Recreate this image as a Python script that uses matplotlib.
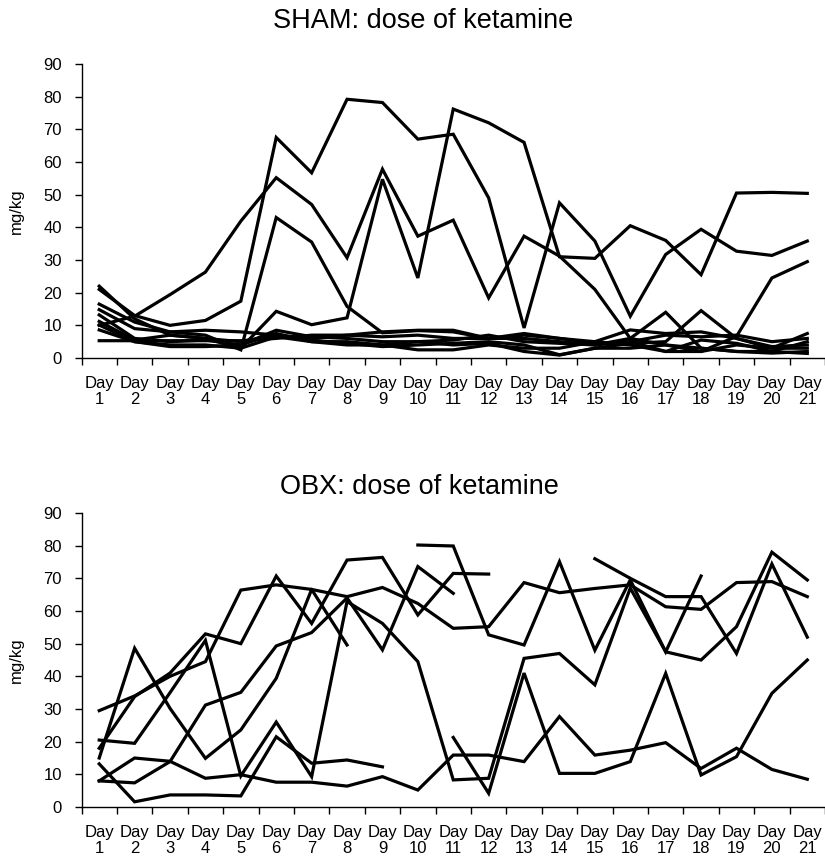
import numpy as np
import matplotlib.pyplot as plt
from matplotlib.ticker import FixedLocator

plt.rcParams['font.family'] = ['Liberation Sans', 'DejaVu Sans']

days = [f'Day\n{d}' for d in range(1, 22)]
nan = np.nan

# SHAM: dose of ketamine (mg/kg), one list per animal
sham_1 = [21, 13, 10, 11.5, 17.4, 67.5, 56.7, 79.2, 78.2, 67, 68.5, 49, 9.2, 47.5, 35.8, 12.8, 31.7, 39.4, 32.7, 31.4, 35.8]
sham_2 = [22, 12, 7, 6, 3, 14.3, 10.2, 12.3, 54.7, 24.5, 76.2, 72, 66, 31, 30.5, 40.5, 36, 25.5, 50.5, 50.7, 50.4]
sham_3 = [10, 12.8, 19.4, 26.3, 41.9, 55.2, 47, 30.7, 57.8, 37.3, 42.2, 18.4, 37.3, 31.2, 21, 6, 4, 2, 4, 3, 7.5]
sham_4 = [16.5, 11, 8, 7, 2.5, 43, 35.5, 15.8, 7.7, 8.4, 8, 6, 7.5, 6, 4.5, 5, 2, 2, 6.6, 24.5, 29.5]
sham_5 = [14.8, 9, 8, 8.5, 8, 7, 6, 7, 8, 8.5, 8.5, 6, 7, 6, 5, 8.6, 7.5, 8, 6, 3, 3]
sham_6 = [13.2, 6, 5, 5.5, 4, 8.5, 6.5, 6, 5, 5, 5.5, 7, 5, 4.5, 4, 6, 14, 3, 2, 2, 5]
sham_7 = [11.2, 5.5, 7, 6, 5, 7, 5.5, 4.5, 3.5, 4, 4.5, 5, 4, 1, 3, 4.5, 5, 14.5, 6, 3.5, 4]
sham_8 = [8.6, 5, 4, 4, 3, 6.5, 5, 4, 4, 2.5, 2.5, 4, 3, 3, 5, 4, 2, 5.5, 4.5, 2, 1.4]
sham_9 = [5.3, 5.3, 5.3, 5.3, 5.3, 6, 7, 7, 6.5, 7, 6, 6, 6, 5, 4, 5, 7, 6.5, 7, 5, 6]
sham_10 = [10.1, 5, 3.5, 3.5, 4, 7.5, 5, 5, 4, 5, 4, 4.5, 2, 0.9, 3, 3, 4, 3, 2, 1.5, 2]

# OBX: dose of ketamine (mg/kg), gaps where no value
obx_1 = [29.5, 34, 40, 44.5, 66.4, 68, 66.6, 49.6] + [nan] * 13
obx_2 = [18, 33.8, 41, 53, 50, 70.7, 56.2, 75.6, 76.4, 58.8, 71.5, 71.3] + [nan] * 9
obx_3 = [20.5, 19.5, 35, 51, 9.5, 26, 9.3, 62.9, 56.2, 44.5, 8.3, 8.8, 45.5, 47, 37.4, 67, 47.5, 45, 55.2, 78, 69.5]
obx_4 = [15, 48.6, 30.2, 14.9, 23.6, 39.4, 66.6, 64.4, 67.2, 62.3, 54.7, 55.2, 68.7, 65.6, 66.9, 68, 61.3, 60.5, 68.7, 69, 64.4]
obx_5 = [13.2, 1.6, 3.7, 3.7, 3.4, 21.5, 13.4, 14.4, 12.3] + [nan] * 12
obx_6 = [8, 7.4, 13.9, 31.2, 35.1, 49.3, 53.4, 64, 48.1, 73.6, 65.4] + [nan] * 10
obx_7 = [8, 15, 14, 8.8, 9.9, 7.6, 7.6, 6.4, 9.3, 5.2, 15.9, 15.9, 13.9, 27.7, 15.9, 17.4, 19.7, 11.8, 18, 11.5, 8.5]
obx_8 = [nan] * 10 + [21.3, 4.2, 41, 10.3, 10.3, 13.9, 40.9, 9.8, 15.4, 34.8, 45]
obx_9 = [nan] * 9 + [80.2, 79.9, 52.7, 49.6, 75.1, 48, 69.5, 47.5, 70.7, nan, nan, nan]
obx_10 = [nan] * 14 + [76, 70, 64.4, 64.4, 47, 74.4, 52]

sham = [sham_1, sham_2, sham_3, sham_4, sham_5, sham_6, sham_7, sham_8, sham_9, sham_10]
obx = [obx_1, obx_2, obx_3, obx_4, obx_5, obx_6, obx_7, obx_8, obx_9, obx_10]

fig = plt.figure(figsize=(8.25, 8.6), dpi=100)
ax_top = fig.add_axes([0.0988, 0.5837, 0.9012, 0.3419])
ax_bot = fig.add_axes([0.0988, 0.0616, 0.9012, 0.3419])

x = np.arange(len(days))
for ax, group in [(ax_top, sham), (ax_bot, obx)]:
    for series in group:
        ax.plot(x, series, color='black', linewidth=2.3, solid_joinstyle='miter')
    ax.set_xlim(-0.5, len(days) - 0.5)
    ax.set_ylim(0, 90)
    ax.set_yticks(range(0, 91, 10))
    ax.set_xticks(x)
    ax.set_xticklabels(days, fontsize=12, linespacing=1.1)
    ax.xaxis.set_minor_locator(FixedLocator(np.arange(-0.5, len(days), 1)))
    ax.tick_params(axis='x', which='major', length=0, pad=13)
    ax.tick_params(axis='x', which='minor', length=5, width=1, direction='out')
    ax.tick_params(axis='y', length=5, width=1, direction='out', pad=9, labelsize=12)
    ax.spines['top'].set_visible(False)
    ax.spines['right'].set_visible(False)
    ax.spines['left'].set_linewidth(1)
    ax.spines['bottom'].set_linewidth(1)
    ax.set_ylabel('mg/kg', fontsize=12)
    ax.yaxis.set_label_coords(-0.078, 0.5)

fig.text(0.513, 0.975, 'SHAM: dose of ketamine', ha='center', va='center', fontsize=19.5)
fig.text(0.509, 0.434, 'OBX: dose of ketamine', ha='center', va='center', fontsize=19.5)

fig.savefig('out.png', dpi=100)
